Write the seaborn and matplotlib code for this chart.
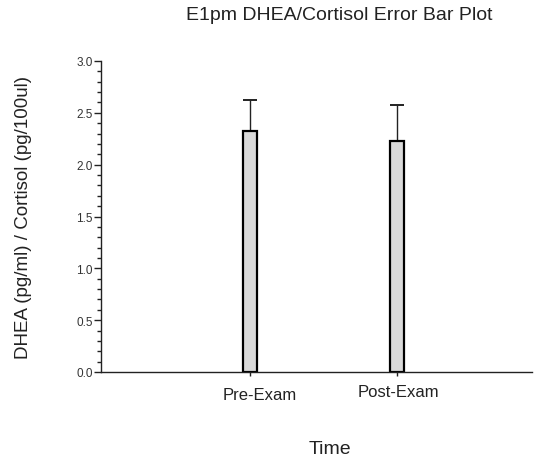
import matplotlib
matplotlib.use("Agg")
import matplotlib.pyplot as plt
import matplotlib.transforms as mtransforms
from matplotlib.ticker import MultipleLocator, FormatStrFormatter
import seaborn as sns
import pandas as pd

# Mean DHEA/Cortisol ratio and upper error for each time point
times = ["Pre-Exam", "Post-Exam"]
means = [2.32, 2.23]
errors = [0.30, 0.35]

sns.set_style("white")
plt.rcParams["font.family"] = ["Liberation Sans", "DejaVu Sans"]

df = pd.DataFrame({"Time": times, "Ratio": means})

fig = plt.figure(figsize=(5.34, 4.60), dpi=100)
ax = fig.add_axes([101 / 534, 1 - 373 / 460, 431 / 534, 311 / 460])

sns.barplot(data=df, x="Time", y="Ratio", ax=ax, width=0.095,
            color="#dadada", edgecolor="black", linewidth=1.6,
            saturation=1, errorbar=None, zorder=2)

# one-sided (upper) error bars
ax.errorbar(range(len(times)), means, yerr=[[0] * len(errors), errors],
            fmt="none", ecolor="#222222", elinewidth=1.0, capsize=5,
            capthick=1.4, zorder=1)

ax.set_xlim(-1.01, 1.92)
ax.set_ylim(0, 3.0)
ax.yaxis.set_major_locator(MultipleLocator(0.5))
ax.yaxis.set_minor_locator(MultipleLocator(0.1))
ax.yaxis.set_major_formatter(FormatStrFormatter("%.1f"))

for side in ("top", "right"):
    ax.spines[side].set_visible(False)
for side in ("left", "bottom"):
    ax.spines[side].set_color("#222222")
    ax.spines[side].set_linewidth(1.0)

ax.tick_params(axis="y", which="major", direction="out", length=5, width=1,
               color="#222222", labelsize=8.5, labelcolor="#333333", pad=1, left=True)
ax.tick_params(axis="y", which="minor", direction="out", length=3, width=1,
               color="#222222", left=True)
ax.tick_params(axis="x", which="major", direction="out", length=3, width=1,
               color="#222222", labelsize=12, labelcolor="#222222", pad=8, bottom=True)

# nudge the category labels a little
for lbl, dx, dy in zip(ax.get_xticklabels(), [10, 2], [0, 3]):
    lbl.set_transform(lbl.get_transform() +
                      mtransforms.ScaledTranslation(dx / 100, dy / 100, fig.dpi_scale_trans))

ax.set_xlabel("Time", fontsize=14, color="#222222")
ax.xaxis.set_label_coords((330 - 101) / 431, (373 - 450) / 311)
ax.xaxis.label.set_va("center")
ax.set_ylabel("DHEA (pg/ml) / Cortisol (pg/100ul)", fontsize=13.5, color="#222222")
ax.yaxis.set_label_coords((24 - 101) / 431, 0.5)
ax.yaxis.label.set_va("center")

fig.text(339 / 534, 1 - 16 / 460, "E1pm DHEA/Cortisol Error Bar Plot",
         ha="center", va="center", fontsize=14, color="#222222")

fig.savefig("out.png", dpi=100)
